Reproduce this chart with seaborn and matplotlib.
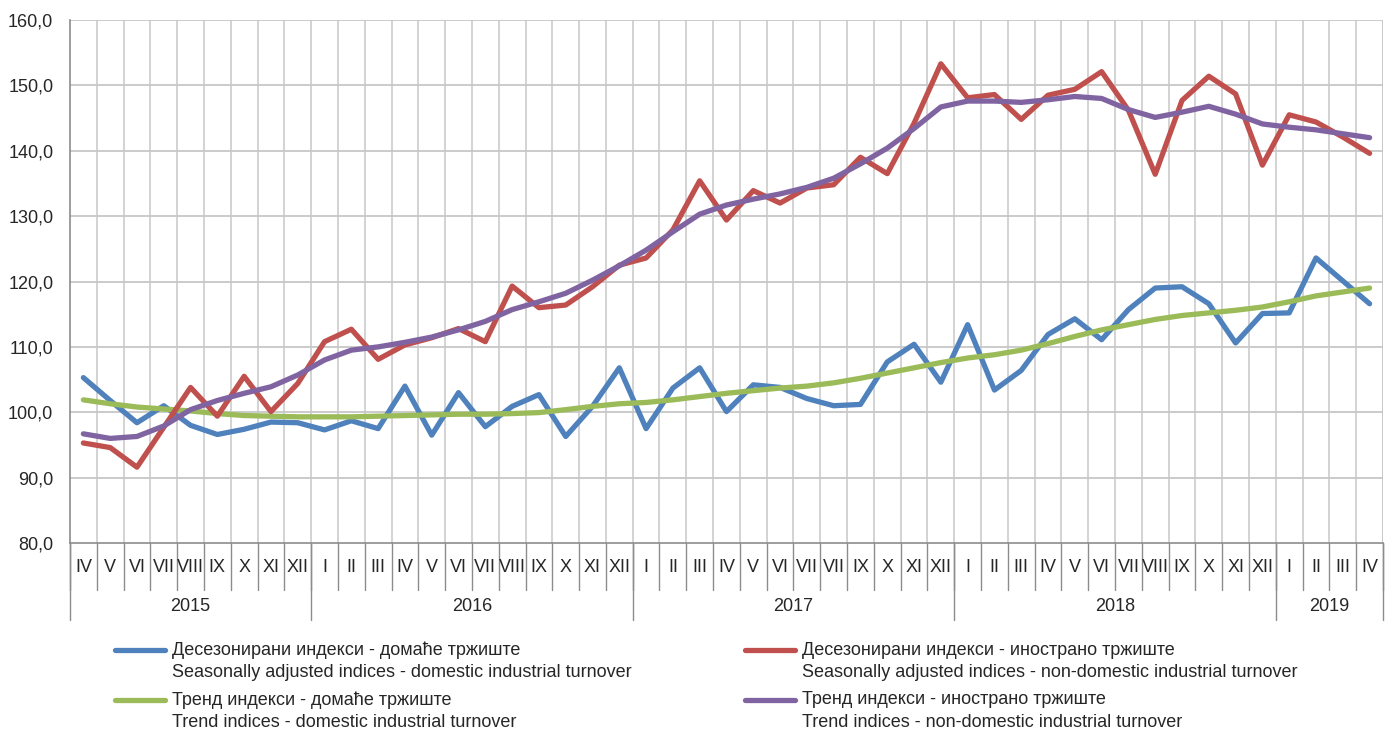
import numpy as np
import pandas as pd
import matplotlib
matplotlib.use('Agg')
import matplotlib.pyplot as plt
from matplotlib.lines import Line2D
from matplotlib.transforms import blended_transform_factory
import seaborn as sns

#######################
# DATA (IV 2015 - IV 2019)
#######################
MONTHS = (['IV', 'V', 'VI', 'VII', 'VIII', 'IX', 'X', 'XI', 'XII']
          + ['I', 'II', 'III', 'IV', 'V', 'VI', 'VII', 'VIII', 'IX', 'X', 'XI', 'XII']
          + ['I', 'II', 'III', 'IV', 'V', 'VI', 'VII', 'VII', 'IX', 'X', 'XI', 'XII']
          + ['I', 'II', 'III', 'IV', 'V', 'VI', 'VII', 'VIII', 'IX', 'X', 'XI', 'XII']
          + ['I', 'II', 'III', 'IV'])
YEARS = ['2015', '2016', '2017', '2018', '2019']
YEAR_COUNTS = [9, 12, 12, 12, 4]

domestic_sa = [105.3, 101.8, 98.4, 101.0, 98.0, 96.6, 97.4, 98.5, 98.4,
               97.3, 98.7, 97.5, 104.0, 96.5, 103.0, 97.8, 100.9, 102.7, 96.3, 100.9, 106.8,
               97.5, 103.7, 106.8, 100.1, 104.2, 103.8, 102.1, 101.0, 101.2, 107.7, 110.4, 104.6,
               113.4, 103.4, 106.4, 111.9, 114.3, 111.1, 115.7, 119.0, 119.2, 116.6, 110.6, 115.1,
               115.2, 123.6, 120.1, 116.6]
foreign_sa = [95.3, 94.6, 91.6, 97.7, 103.8, 99.4, 105.5, 100.1, 104.4,
              110.8, 112.7, 108.1, 110.3, 111.4, 112.8, 110.8, 119.3, 116.0, 116.4, 119.2, 122.5,
              123.6, 127.9, 135.4, 129.4, 133.9, 132.0, 134.3, 134.8, 139.0, 136.5, 144.2, 153.3,
              148.1, 148.6, 144.8, 148.5, 149.4, 152.1, 146.2, 136.4, 147.7, 151.4, 148.7, 137.8,
              145.5, 144.4, 142.1, 139.6]
domestic_trend = [101.9, 101.3, 100.8, 100.5, 100.2, 99.8, 99.5, 99.4, 99.3,
                  99.3, 99.3, 99.4, 99.5, 99.6, 99.7, 99.7, 99.8, 99.95, 100.4, 100.9, 101.3,
                  101.5, 101.9, 102.4, 102.9, 103.3, 103.7, 104.0, 104.5, 105.2, 106.0, 106.8, 107.6,
                  108.3, 108.8, 109.5, 110.5, 111.6, 112.6, 113.4, 114.2, 114.8, 115.2, 115.6, 116.1,
                  116.9, 117.8, 118.4, 119.0]
foreign_trend = [96.7, 96.0, 96.3, 97.9, 100.4, 101.8, 102.9, 103.9, 105.7,
                 108.0, 109.5, 110.0, 110.7, 111.5, 112.6, 113.9, 115.7, 116.9, 118.2, 120.2, 122.4,
                 124.8, 127.6, 130.3, 131.7, 132.6, 133.4, 134.4, 135.8, 138.0, 140.4, 143.4, 146.7,
                 147.6, 147.6, 147.4, 147.8, 148.3, 148.0, 146.3, 145.1, 145.9, 146.8, 145.6, 144.1,
                 143.6, 143.2, 142.6, 142.0]

LABELS = ['Десезонирани индекси - домаће тржиште\nSeasonally adjusted indices - domestic industrial turnover',
          'Десезонирани индекси - иностранo тржиште\nSeasonally adjusted indices - non-domestic industrial turnover',
          'Тренд индекси - домаће тржиште\nTrend indices - domestic industrial turnover',
          'Тренд индекси - иностранo тржиште\nTrend indices - non-domestic industrial turnover']
LABELS = [l.replace('иностранo', 'инострано') for l in LABELS]
COLORS = ['#4F81BD', '#C0504D', '#9BBB59', '#8064A2']

#######################
# PLOT
#######################
sns.set_style('white')
plt.rcParams['font.family'] = ['Liberation Sans Narrow', 'Liberation Sans', 'DejaVu Sans']

df = pd.DataFrame({'idx': np.arange(len(MONTHS)),
                   'dom_sa': domestic_sa, 'for_sa': foreign_sa,
                   'dom_tr': domestic_trend, 'for_tr': foreign_trend})

fig = plt.figure(figsize=(13.94, 7.38), dpi=100)
ax = fig.add_axes([0.0502, 0.2642, 0.9419, 0.7087])

# order of drawing: domestic SA, trend domestic, foreign SA, trend foreign
for col, color in zip(['dom_sa', 'dom_tr', 'for_sa', 'for_tr'],
                      [COLORS[0], COLORS[2], COLORS[1], COLORS[3]]):
    sns.lineplot(data=df, x='idx', y=col, color=color, linewidth=3.8, ax=ax,
                 solid_capstyle='round', solid_joinstyle='round')

n = len(MONTHS)
ax.set_xlim(-0.5, n - 0.5)
ax.set_ylim(80, 160)
ax.set_yticks(np.arange(80, 161, 10))
ax.set_yticklabels([f'{v:.1f}'.replace('.', ',') for v in np.arange(80, 161, 10)], fontsize=13)
ax.set_xticks([])
ax.set_xlabel('')
ax.set_ylabel('')
ax.tick_params(axis='y', length=6, width=1, color='#8C8C8C', direction='out', pad=6)

# gridlines
for y in np.arange(90, 161, 10):
    ax.axhline(y, color='#BDBDBD', lw=1.1, zorder=0)
for b in np.arange(0.5, n, 1.0):
    ax.axvline(b, color='#C8C8C8', lw=1.1, zorder=0)
ax.axvline(n - 0.5, color='#C8C8C8', lw=1.1, zorder=0)

for s in ['top', 'right']:
    ax.spines[s].set_visible(False)
for s in ['left', 'bottom']:
    ax.spines[s].set_color('#8C8C8C')
    ax.spines[s].set_linewidth(1.2)

# category axis with months and years
trans = blended_transform_factory(ax.transData, ax.transAxes)
for i, m in enumerate(MONTHS):
    ax.text(i, -0.046, m, transform=trans, ha='center', va='center', fontsize=13)
for b in np.arange(-0.5, n, 1.0):
    ax.plot([b, b], [0, -0.09], transform=trans, color='#8C8C8C', lw=1, clip_on=False)
start = -0.5
for year, cnt in zip(YEARS, YEAR_COUNTS):
    ax.text(start + cnt / 2, -0.122, year, transform=trans, ha='center', va='center', fontsize=13)
    ax.plot([start, start], [0, -0.147], transform=trans, color='#8C8C8C', lw=1, clip_on=False)
    start += cnt
ax.plot([start, start], [0, -0.147], transform=trans, color='#8C8C8C', lw=1, clip_on=False)

# legend (two columns, handle aligned to first line)
leg_pos = [(0.0825, 0.1192), (0.5344, 0.1192), (0.0825, 0.0515), (0.5344, 0.0515)]
for (lx, ly), label, color in zip(leg_pos, LABELS, COLORS):
    fig.add_artist(Line2D([lx, lx + 0.036], [ly, ly], color=color, lw=3.8,
                          solid_capstyle='round', transform=fig.transFigure))
    first, second = label.split('\n')
    fig.text(lx + 0.041, ly, first, ha='left', va='center', fontsize=13)
    fig.text(lx + 0.041, ly - 0.031, second, ha='left', va='center', fontsize=13)

fig.savefig('out.png', dpi=100)
